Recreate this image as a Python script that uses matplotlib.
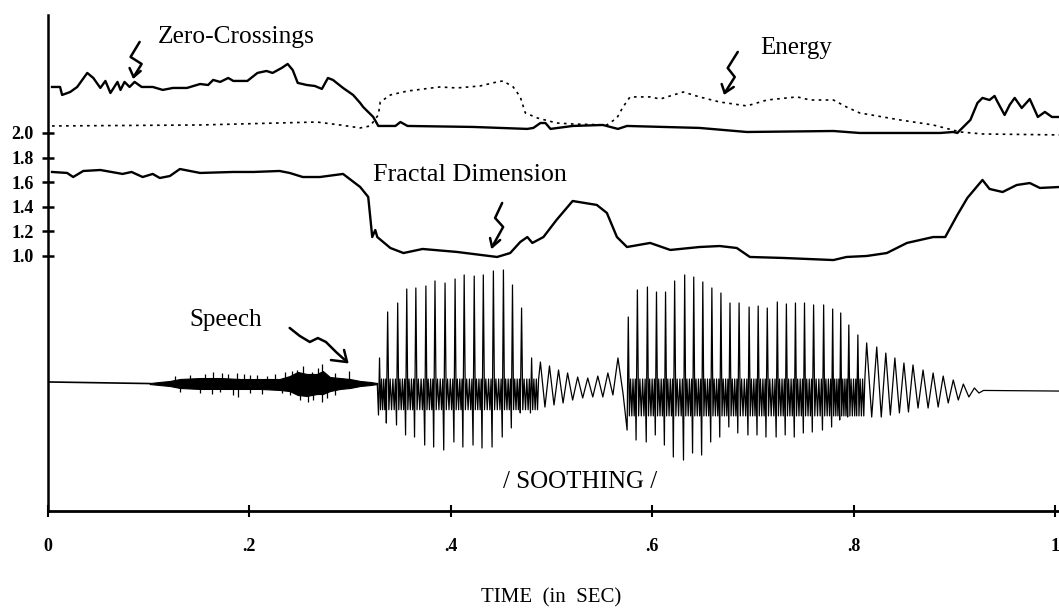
import matplotlib
matplotlib.use("Agg")
import matplotlib.pyplot as plt
import numpy as np

# ---------------- data (time in sec, value in chart units) ----------------
zc_t = [0.004, 0.012, 0.014, 0.022, 0.029, 0.039, 0.045, 0.052, 0.057, 0.062, 0.069, 0.072,
        0.076, 0.081, 0.086, 0.093, 0.104, 0.114, 0.124, 0.138, 0.151, 0.159, 0.164, 0.171,
        0.179, 0.184, 0.198, 0.208, 0.217, 0.223, 0.232, 0.238, 0.243, 0.248, 0.257, 0.265,
        0.272, 0.278, 0.283, 0.293, 0.303, 0.310, 0.313, 0.323, 0.328, 0.345, 0.350, 0.357,
        0.422, 0.476, 0.482, 0.489, 0.494, 0.499, 0.521, 0.551, 0.566, 0.575, 0.647, 0.694,
        0.780, 0.806, 0.886, 0.899, 0.903, 0.909, 0.916, 0.923, 0.928, 0.935, 0.940, 0.943,
        0.950, 0.955, 0.960, 0.967, 0.975, 0.983, 0.990, 0.997, 1.005]
zc_v = [2.374, 2.374, 2.309, 2.333, 2.374, 2.488, 2.447, 2.366, 2.423, 2.325, 2.415, 2.350,
        2.415, 2.374, 2.415, 2.374, 2.374, 2.350, 2.366, 2.366, 2.398, 2.390, 2.431, 2.415,
        2.447, 2.423, 2.423, 2.488, 2.504, 2.488, 2.528, 2.561, 2.512, 2.407, 2.390, 2.382,
        2.358, 2.447, 2.431, 2.366, 2.309, 2.244, 2.211, 2.130, 2.057, 2.057, 2.089, 2.057,
        2.049, 2.033, 2.041, 2.081, 2.081, 2.033, 2.057, 2.065, 2.033, 2.057, 2.041, 2.008,
        2.016, 2.000, 2.000, 2.008, 2.000, 2.049, 2.106, 2.244, 2.285, 2.268, 2.301, 2.252,
        2.146, 2.228, 2.285, 2.203, 2.276, 2.130, 2.171, 2.130, 2.130]

en_t = [0.004, 0.151, 0.267, 0.290, 0.310, 0.320, 0.328, 0.330, 0.340, 0.357, 0.389, 0.406,
        0.429, 0.446, 0.452, 0.462, 0.469, 0.474, 0.486, 0.505, 0.521, 0.555, 0.565, 0.571,
        0.578, 0.598, 0.608, 0.621, 0.631, 0.647, 0.667, 0.694, 0.714, 0.734, 0.744, 0.757,
        0.780, 0.793, 0.806, 0.846, 0.879, 0.906, 0.928, 1.005]
en_v = [2.057, 2.065, 2.089, 2.065, 2.041, 2.057, 2.146, 2.252, 2.309, 2.341, 2.374, 2.366,
        2.382, 2.415, 2.423, 2.374, 2.293, 2.163, 2.122, 2.081, 2.073, 2.065, 2.122, 2.211,
        2.293, 2.293, 2.276, 2.309, 2.333, 2.293, 2.252, 2.220, 2.268, 2.285, 2.293, 2.268,
        2.268, 2.211, 2.163, 2.106, 2.065, 2.008, 1.992, 1.984]

fd_t = [0.004, 0.019, 0.025, 0.035, 0.052, 0.074, 0.083, 0.094, 0.104, 0.111, 0.121, 0.131,
        0.151, 0.184, 0.204, 0.230, 0.240, 0.253, 0.270, 0.293, 0.310, 0.318, 0.322, 0.325,
        0.327, 0.340, 0.353, 0.372, 0.406, 0.446, 0.459, 0.469, 0.476, 0.481, 0.492, 0.505,
        0.521, 0.545, 0.555, 0.565, 0.575, 0.598, 0.618, 0.647, 0.667, 0.684, 0.697, 0.730,
        0.780, 0.793, 0.813, 0.833, 0.853, 0.879, 0.891, 0.903, 0.913, 0.928, 0.935, 0.948,
        0.962, 0.975, 0.985, 1.005]
fd_v = [1.683, 1.675, 1.642, 1.691, 1.699, 1.667, 1.683, 1.642, 1.667, 1.634, 1.650, 1.707,
        1.675, 1.683, 1.683, 1.691, 1.675, 1.642, 1.642, 1.667, 1.561, 1.480, 1.154, 1.211,
        1.154, 1.065, 1.024, 1.057, 1.033, 0.992, 1.024, 1.114, 1.154, 1.106, 1.154, 1.293,
        1.447, 1.415, 1.350, 1.154, 1.073, 1.106, 1.049, 1.073, 1.081, 1.065, 0.992, 0.984,
        0.967, 0.992, 1.000, 1.024, 1.106, 1.154, 1.154, 1.333, 1.472, 1.618, 1.545, 1.520,
        1.577, 1.593, 1.553, 1.561]

# speech: silence + fricative noise band
lead_t = [0.0, 0.101]
lead_v = [-0.024, -0.037]
noise_t = [0.101, 0.111, 0.121, 0.131, 0.151, 0.171, 0.191, 0.211, 0.230, 0.240, 0.248,
           0.257, 0.267, 0.273, 0.280, 0.290, 0.300, 0.310, 0.320, 0.327]
noise_hi = [-0.033, -0.024, -0.016, 0.0, 0.008, 0.008, 0.0, 0.0, 0.0, 0.024, 0.057,
            0.041, 0.041, 0.065, 0.016, 0.008, 0.0, -0.016, -0.024, -0.033]
noise_lo = [-0.041, -0.049, -0.057, -0.073, -0.081, -0.081, -0.081, -0.081, -0.089, -0.098,
            -0.130, -0.138, -0.122, -0.122, -0.098, -0.081, -0.073, -0.057, -0.049, -0.041]
spk_up_t = [0.126, 0.141, 0.156, 0.164, 0.173, 0.179, 0.188, 0.195, 0.201, 0.208, 0.217,
            0.225, 0.235, 0.242, 0.247, 0.253, 0.262, 0.268, 0.272, 0.285, 0.299]
spk_up_v = [0.024, 0.033, 0.041, 0.057, 0.049, 0.041, 0.049, 0.041, 0.033, 0.033, 0.024,
            0.041, 0.057, 0.065, 0.073, 0.106, 0.057, 0.089, 0.122, 0.049, 0.065]
spk_dn_t = [0.131, 0.151, 0.163, 0.171, 0.184, 0.189, 0.201, 0.213, 0.232, 0.240, 0.250,
            0.258, 0.263, 0.272, 0.277, 0.285]
spk_dn_v = [-0.106, -0.114, -0.122, -0.106, -0.130, -0.146, -0.114, -0.122, -0.114, -0.130,
            -0.171, -0.187, -0.171, -0.187, -0.154, -0.130]

# voiced pulses: first syllable
syl1_t = [0.329, 0.337, 0.347, 0.356, 0.365, 0.375, 0.384, 0.394, 0.404, 0.413, 0.423,
          0.432, 0.442, 0.452, 0.461, 0.470, 0.480]
syl1_pk = [0.171, 0.545, 0.618, 0.732, 0.740, 0.756, 0.797, 0.780, 0.813, 0.846, 0.837,
           0.846, 0.878, 0.886, 0.764, 0.577, 0.171]
syl1_tr = [-0.293, -0.358, -0.374, -0.455, -0.472, -0.537, -0.553, -0.577, -0.512, -0.553,
           -0.537, -0.561, -0.553, -0.472, -0.398, -0.276, -0.276]
# transition
trans_t = [0.489, 0.498, 0.507, 0.516, 0.526, 0.536, 0.546, 0.556, 0.566]
trans_pk = [0.138, 0.106, 0.073, 0.049, 0.016, 0.008, 0.024, 0.049, 0.171]
trans_tr = [-0.228, -0.211, -0.195, -0.171, -0.154, -0.146, -0.146, -0.130, -0.114]
# second syllable (dense part)
syl2_t = [0.576, 0.585, 0.595, 0.604, 0.613, 0.622, 0.632, 0.641, 0.650, 0.659, 0.668,
          0.677, 0.686, 0.696, 0.705, 0.714, 0.724, 0.733, 0.742, 0.751, 0.760, 0.770,
          0.779, 0.787, 0.795, 0.804]
syl2_pk = [0.504, 0.724, 0.748, 0.707, 0.707, 0.797, 0.846, 0.829, 0.789, 0.740, 0.699,
           0.618, 0.618, 0.585, 0.593, 0.577, 0.626, 0.610, 0.618, 0.618, 0.602, 0.602,
           0.569, 0.537, 0.439, 0.358]
syl2_tr = [-0.415, -0.496, -0.512, -0.455, -0.537, -0.634, -0.659, -0.602, -0.618, -0.512,
           -0.472, -0.390, -0.439, -0.455, -0.455, -0.472, -0.472, -0.455, -0.472, -0.439,
           -0.431, -0.415, -0.390, -0.333, -0.309, -0.300]
# fading tail
fade_t = [0.813, 0.823, 0.832, 0.841, 0.850, 0.859, 0.869, 0.879, 0.889, 0.899, 0.909, 0.920]
fade_pk = [0.293, 0.260, 0.211, 0.171, 0.130, 0.114, 0.073, 0.049, 0.024, -0.008, -0.041, -0.073]
fade_tr = [-0.309, -0.309, -0.293, -0.276, -0.268, -0.236, -0.236, -0.228, -0.195, -0.171,
           -0.146, -0.114]
tail_t = [0.929, 1.004]
tail_v = [-0.093, -0.098]

# region constants: (baseline, core high, core low)
syl1_core = (-0.06, 0.0, -0.25)
syl2_core = (-0.08, 0.0, -0.30)

# ---------------- build waveform polyline ----------------
def dense(ts, pk, tr, core, t_next):
    base, chi, clo = core
    xs, ys = [], []
    for i, t in enumerate(ts):
        T = (ts[i + 1] if i + 1 < len(ts) else t_next) - t
        frac = [-0.10, 0.03, 0.15, 0.28, 0.42, 0.55, 0.68, 0.80]
        vals = [tr[i], pk[i], clo, chi, clo, chi, clo, chi]
        for f, v in zip(frac, vals):
            xs.append(t + f * T)
            ys.append(v)
    return xs, ys

def zigzag(ts, pk, tr, t_next):
    xs, ys = [], []
    for i, t in enumerate(ts):
        T = (ts[i + 1] if i + 1 < len(ts) else t_next) - t
        xs += [t, t + 0.5 * T]
        ys += [pk[i], tr[i]]
    return xs, ys

wx, wy = [noise_t[-1]], [-0.037]
for part in (dense(syl1_t, syl1_pk, syl1_tr, syl1_core, trans_t[0]),
             zigzag(trans_t, trans_pk, trans_tr, syl2_t[0]),
             dense(syl2_t, syl2_pk, syl2_tr, syl2_core, fade_t[0]),
             zigzag(fade_t, fade_pk, fade_tr, tail_t[0])):
    wx += part[0]
    wy += part[1]
wx += tail_t
wy += tail_v

# ---------------- figure ----------------
plt.rcParams['font.family'] = ['Liberation Serif', 'DejaVu Serif']
fig = plt.figure(figsize=(10.59, 6.13), dpi=100)
ax = fig.add_axes([48 / 1059, 1 - 511 / 613, 1 - 48 / 1059, (511 - 15) / 613])
ax.set_xlim(0, 1.004)
ax.set_ylim(-1.073, 2.959)

ax.plot(zc_t, zc_v, color='black', lw=1.7, solid_joinstyle='round')
ax.plot(en_t, en_v, color='black', lw=1.2, linestyle=(0, (1.6, 2.6)))
ax.plot(fd_t, fd_v, color='black', lw=1.7, solid_joinstyle='round')

ax.plot(lead_t, lead_v, color='black', lw=1.2)
ax.fill_between(noise_t, noise_lo, noise_hi, color='black', lw=0.8)
ax.vlines(spk_up_t, -0.04, spk_up_v, color='black', lw=0.9)
ax.vlines(spk_dn_t, spk_dn_v, -0.04, color='black', lw=0.9)
ax.plot(wx, wy, color='black', lw=0.9)

# spines / ticks
for s in ('top', 'right'):
    ax.spines[s].set_visible(False)
ax.spines['left'].set_linewidth(1.8)
ax.spines['bottom'].set_linewidth(2.0)
ax.set_yticks([1.0, 1.2, 1.4, 1.6, 1.8, 2.0])
ax.set_yticklabels(['1.0', '1.2', '1.4', '1.6', '1.8', '2.0'])
ax.set_xticks([0, 0.2, 0.4, 0.6, 0.8, 1.0])
ax.set_xticklabels(['0', '.2', '.4', '.6', '.8', '1'])
ax.tick_params(axis='y', direction='inout', length=9, width=1.8, pad=6, labelsize=13)
ax.tick_params(axis='x', direction='inout', length=9, width=1.5, pad=15, labelsize=13)
for lab in ax.get_xticklabels() + ax.get_yticklabels():
    lab.set_fontweight('bold')

# labels
fs = 18
ax.text(0.109, 2.780, 'Zero-Crossings', fontsize=18.3, va='center', ha='left')
ax.text(0.707, 2.691, 'Energy', fontsize=fs, va='center', ha='left')
ax.text(0.323, 1.659, 'Fractal Dimension', fontsize=18.8, va='center', ha='left')
ax.text(0.140, 0.480, 'Speech', fontsize=fs, va='center', ha='left')
ax.text(0.528, -0.837, '/ SOOTHING /', fontsize=fs, va='center', ha='center')
fig.text(551 / 1059, 1 - 598 / 613, 'TIME  (in  SEC)', fontsize=15, ha='center', va='center')

# hand-drawn arrows
arrows = [
    ([0.091, 0.082, 0.093, 0.085], [2.740, 2.618, 2.561, 2.455], (0.081, 2.528), (0.092, 2.504)),
    ([0.685, 0.675, 0.682, 0.672], [2.659, 2.528, 2.455, 2.325], (0.669, 2.398), (0.681, 2.374)),
    ([0.451, 0.444, 0.452, 0.441], [1.431, 1.309, 1.236, 1.073], (0.439, 1.146), (0.449, 1.130)),
    ([0.240, 0.250, 0.260, 0.268, 0.276, 0.286, 0.297], [0.415, 0.350, 0.301, 0.333, 0.301, 0.220, 0.138],
     (0.281, 0.154), (0.294, 0.236)),
]
for xs, ys, w1, w2 in arrows:
    ax.plot(xs, ys, color='black', lw=1.8, solid_capstyle='round', solid_joinstyle='round')
    ax.plot([w1[0], xs[-1], w2[0]], [w1[1], ys[-1], w2[1]], color='black', lw=1.8,
            solid_capstyle='round', solid_joinstyle='round')

fig.savefig('out.png', dpi=100, facecolor='white')
